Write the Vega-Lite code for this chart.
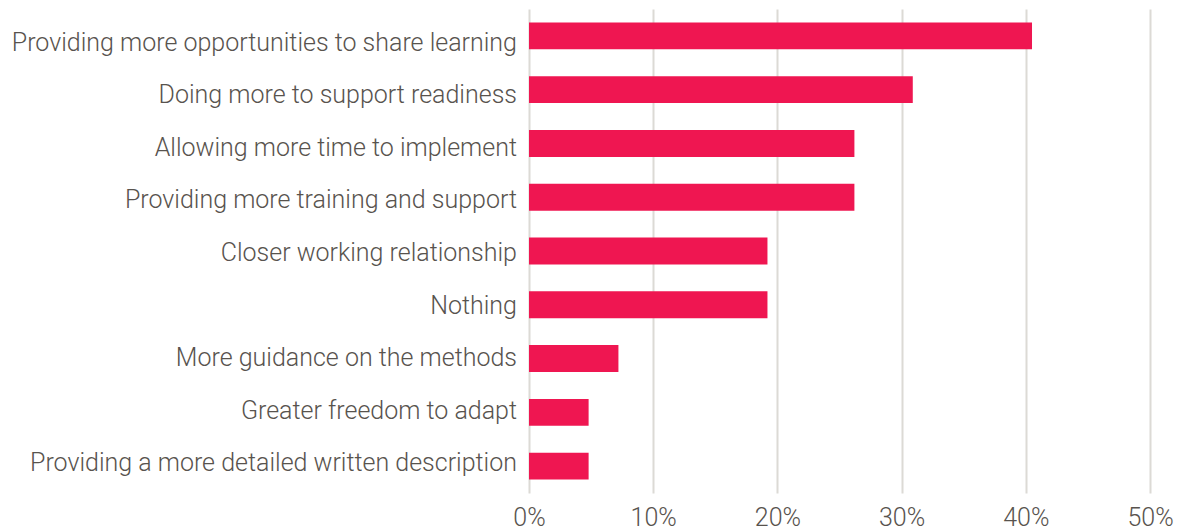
{
  "$schema": "https://vega.github.io/schema/vega-lite/v6.json",
  "autosize": "none",
  "width": 621,
  "height": 484,
  "padding": {"left": 529, "top": 9, "right": 29, "bottom": 38},
  "background": "white",
  "data": {"values": [
    {"label": "Providing more opportunities to share learning", "value": 40.5},
    {"label": "Doing more to support readiness", "value": 30.9},
    {"label": "Allowing more time to implement", "value": 26.2},
    {"label": "Providing more training and support", "value": 26.2},
    {"label": "Closer working relationship", "value": 19.2},
    {"label": "Nothing", "value": 19.2},
    {"label": "More guidance on the methods", "value": 7.2},
    {"label": "Greater freedom to adapt", "value": 4.8},
    {"label": "Providing a more detailed written description", "value": 4.8}
  ]},
  "layer": [
    {
      "mark": {"type": "bar", "color": "#ef1651"},
      "encoding": {
        "y": {"field": "label", "type": "nominal", "sort": null, "title": null,
          "scale": {"paddingInner": 0.5, "paddingOuter": 0.25}, "axis": null},
        "x": {"field": "value", "type": "quantitative", "title": null,
          "scale": {"domain": [0, 50]},
          "axis": {"values": [0, 10, 20, 30, 40, 50], "labelExpr": "datum.value + '%'", "domain": false, "ticks": false, "grid": true, "gridColor": "#dcdad5", "gridWidth": 2, "labelPadding": 12, "labelFont": "Roboto", "labelFontWeight": 300, "labelFontSize": 25, "labelColor": "#58534e", "labelFlush": false}}
      }
    },
    {
      "mark": {"type": "text", "align": "right", "baseline": "middle", "dx": -12, "dy": 2, "font": "Roboto", "fontWeight": 300, "fontSize": 25, "color": "#58534e"},
      "encoding": {
        "y": {"field": "label", "type": "ordinal", "sort": null, "title": null,
          "scale": {"type": "point", "padding": 0.605}, "axis": null},
        "x": {"datum": 0, "type": "quantitative"},
        "text": {"field": "label"}
      }
    }
  ],
  "resolve": {"scale": {"y": "independent"}},
  "config": {"view": {"stroke": null}}
}
